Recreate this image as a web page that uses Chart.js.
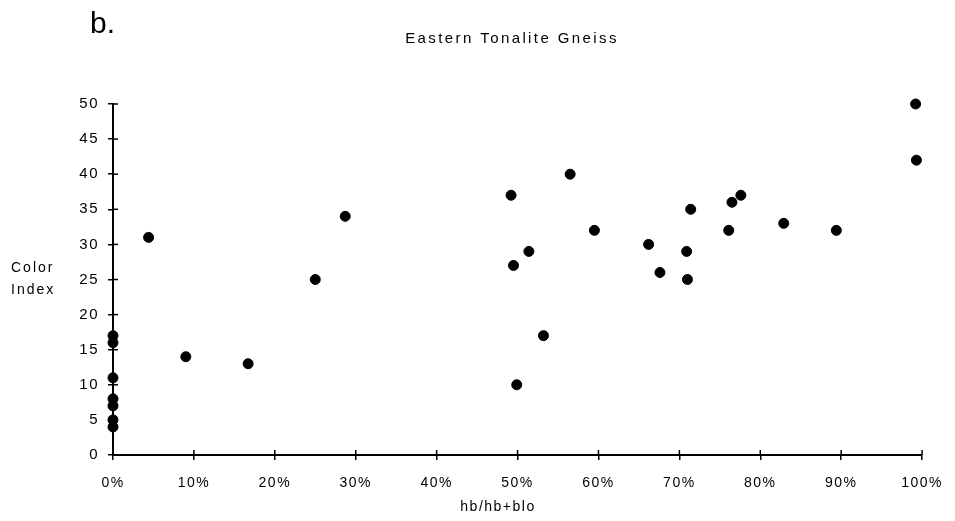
<!DOCTYPE html>
<html>
<head>
<meta charset="utf-8">
<script src="https://cdn.jsdelivr.net/npm/chart.js@4.4.1/dist/chart.umd.min.js"></script>
<style>
  html, body { margin: 0; padding: 0; background: #fff; }
  #wrap { width: 955px; height: 521px; }
</style>
</head>
<body>
<div id="wrap"><canvas id="chart" width="955" height="521"></canvas></div>
<script>
// values (x as percent of hb/(hb+blo))
const hbRatio = [0, 0, 0, 0, 0, 0, 0,
  4.4, 9.0, 16.7, 25.0, 28.7,
  49.2, 49.5, 49.9, 51.4, 53.2, 56.5, 59.5,
  66.2, 67.6, 70.9, 71.0, 71.4, 76.1, 76.5, 77.6, 82.9, 89.4, 99.2, 99.3];
const colorIndex = [17, 16, 11, 8, 7, 5, 4,
  31, 14, 13, 25, 34,
  37, 27, 10, 29, 17, 40, 32,
  30, 26, 29, 25, 35, 32, 36, 37, 33, 32, 50, 42];

const xTicks = [0, 10, 20, 30, 40, 50, 60, 70, 80, 90, 100];
const yTicks = [0, 5, 10, 15, 20, 25, 30, 35, 40, 45, 50];

const panelLabel = 'b.';
const chartTitle = 'Eastern Tonalite Gneiss';
const yTitle = ['Color', 'Index'];
const xTitle = 'hb/hb+blo';

const FONT = '"Liberation Sans", Arial, Helvetica, sans-serif';

const points = hbRatio.map((v, i) => ({ x: v, y: colorIndex[i] }));

// wide tracking like the old typeset figure; y labels (z:1) are drawn after the dots
const spacing = {
  id: 'spacing',
  beforeDraw(chart) { chart.ctx.letterSpacing = '1.5px'; },
  afterDatasetsDraw(chart) { chart.ctx.letterSpacing = '3px'; }
};

// tick marks cross the axis lines, so draw the inner half too
const innerTicks = {
  id: 'innerTicks',
  afterDraw(chart) {
    const { ctx, chartArea, scales } = chart;
    ctx.save();
    ctx.strokeStyle = '#000';
    ctx.lineWidth = 1.5;
    yTicks.forEach(v => {
      if (v === 0) return;
      const py = scales.y.getPixelForValue(v);
      ctx.beginPath();
      ctx.moveTo(chartArea.left, py);
      ctx.lineTo(chartArea.left + 5, py);
      ctx.stroke();
    });
    xTicks.forEach(v => {
      if (v === 0) return;
      const px = scales.x.getPixelForValue(v);
      ctx.beginPath();
      ctx.moveTo(px, chartArea.bottom);
      ctx.lineTo(px, chartArea.bottom - 5);
      ctx.stroke();
    });
    ctx.restore();
  }
};

const labels = {
  id: 'labels',
  afterDraw(chart) {
    const ctx = chart.ctx;
    ctx.save();
    ctx.fillStyle = '#000';

    ctx.letterSpacing = '0px';
    ctx.textBaseline = 'alphabetic';
    ctx.font = '30px ' + FONT;
    ctx.textAlign = 'left';
    ctx.fillText(panelLabel, 90, 33);

    ctx.textBaseline = 'middle';
    ctx.letterSpacing = '2.4px';
    ctx.font = '15px ' + FONT;
    ctx.textAlign = 'center';
    ctx.fillText(chartTitle, 512, 39);

    ctx.letterSpacing = '1.5px';
    ctx.font = '14px ' + FONT;
    ctx.fillText(xTitle, 498, 507);

    ctx.textAlign = 'left';
    ctx.letterSpacing = '2px';
    ctx.fillText(yTitle[0], 11, 268);
    ctx.fillText(yTitle[1], 11, 290);
    ctx.restore();
  }
};

new Chart(document.getElementById('chart'), {
  type: 'scatter',
  data: {
    datasets: [{
      data: points,
      backgroundColor: '#000',
      borderColor: '#000',
      pointRadius: 5,
      pointHoverRadius: 5,
      clip: false
    }]
  },
  options: {
    responsive: false,
    animation: false,
    layout: { padding: { left: 0, right: 32, top: 104, bottom: 0 } },
    plugins: {
      legend: { display: false },
      title: { display: false },
      tooltip: { enabled: false }
    },
    scales: {
      x: {
        type: 'linear',
        min: 0,
        max: 100,
        afterFit(scale) { scale.height = 66; },
        afterBuildTicks(scale) { scale.ticks = xTicks.map(v => ({ value: v })); },
        border: { color: '#000', width: 2 },
        grid: { drawOnChartArea: false, drawTicks: true, tickLength: 5, color: '#000', lineWidth: 1.5 },
        ticks: {
          color: '#000',
          font: { family: FONT, size: 14 },
          padding: 15,
          maxRotation: 0,
          callback: v => v + '%'
        }
      },
      y: {
        type: 'linear',
        min: 0,
        max: 50,
        z: 1,
        afterFit(scale) { scale.width = 113; },
        afterBuildTicks(scale) { scale.ticks = yTicks.map(v => ({ value: v })); },
        border: { color: '#000', width: 2 },
        grid: { drawOnChartArea: false, drawTicks: true, tickLength: 5, color: '#000', lineWidth: 1.5 },
        ticks: {
          color: '#000',
          font: { family: FONT, size: 15 },
          padding: 9
        }
      }
    }
  },
  plugins: [spacing, innerTicks, labels]
});
</script>
</body>
</html>
